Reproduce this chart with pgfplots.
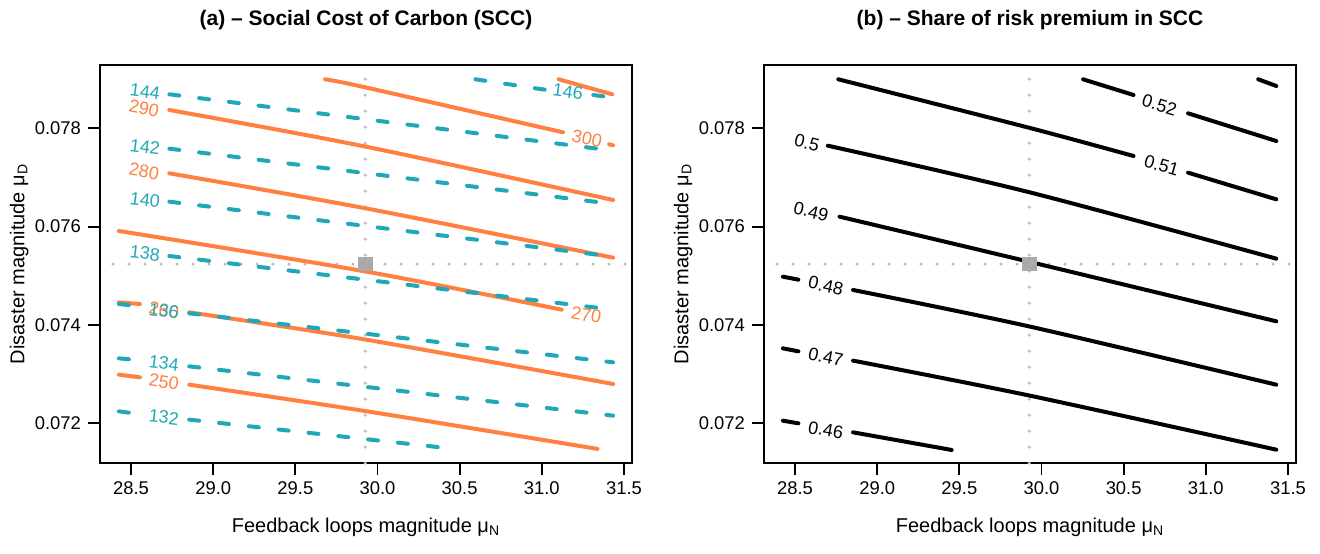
\documentclass[border=0pt]{standalone}
\usepackage{fontspec}
\setmainfont{Liberation Sans}
\usepackage{pgfplots}
\pgfplotsset{compat=1.18}

\definecolor{orng}{RGB}{255,128,64}
\definecolor{tl}{RGB}{32,168,184}
\definecolor{dotg}{RGB}{190,190,190}
\definecolor{sqg}{RGB}{170,170,170}

\newcommand\clab{\fontsize{9}{10}\selectfont}
% contour label: colour, rotation, position, text
\newcommand\lab[4]{\node[font=\clab, text=#1, rotate=#2, inner sep=0pt] at (axis cs:#3) {#4};}

\pgfplotsset{
  panel/.style={
    scale only axis, width=266pt, height=199pt,
    xmin=28.311, xmax=31.549, ymin=0.071193, ymax=0.079288,
    xtick={28.5,29,29.5,30,30.5,31,31.5},
    ytick={0.072,0.074,0.076,0.078},
    scaled x ticks=false, scaled y ticks=false,
    xtick pos=left, ytick pos=left,
    tick align=outside, major tick length=6pt,
    axis line style={line width=0.9pt},
    tick style={line width=0.9pt, black},
    tick label style={font=\fontsize{9.2}{11}\selectfont},
    xticklabel style={/pgf/number format/.cd, fixed, fixed zerofill, precision=1, assume math mode=true},
    yticklabel style={/pgf/number format/.cd, fixed, fixed zerofill, precision=3, assume math mode=true},
    label style={font=\fontsize{10.3}{12}\selectfont},
    every axis x label/.style={at={(axis description cs:0.5,0)}, yshift=-32pt, anchor=center},
    every axis y label/.style={at={(axis description cs:-0.152,0.5)}, rotate=90, anchor=center},
    xlabel={Feedback loops magnitude μ\textsubscript{N}},
    ylabel={Disaster magnitude μ\textsubscript{D}},
    every axis title/.style={font=\bfseries\fontsize{10.5}{12}\selectfont, at={(0.5,1)}, anchor=center, yshift=22.5pt},
    clip=false,
  },
  refdot/.style={color=dotg, line width=1.75pt, dash pattern=on 0pt off 8pt, line cap=round, no marks},
  sccline/.style={color=orng, line width=2pt, line cap=round, no marks, smooth},
  cbline/.style={color=tl, line width=2pt, dash pattern=on 5pt off 10pt, line cap=round, no marks},
  shline/.style={color=black, line width=2pt, line cap=round, no marks, smooth},
}

\begin{document}
\begin{tikzpicture}
\path[use as bounding box] (0,0) rectangle (660pt,276.5pt);

% (a) SCC
\begin{axis}[panel, at={(50pt,45pt)}, anchor=south west,
  title={(a) – Social Cost of Carbon (SCC)}]
\addplot[refdot] coordinates {(29.925,0.07119) (29.925,0.07903)};
\addplot[refdot] coordinates {(28.39,0.07524) (31.52,0.07524)};
\addplot[only marks, mark=square*, mark size=3.4pt, color=sqg] coordinates {(29.925,0.07524)};

% SCC contours
\addplot[sccline] coordinates {(31.103,0.078997) (31.428,0.078692)};
\addplot[sccline] coordinates {(29.681,0.078997) (29.925,0.078834) (31.129,0.077919)};
\addplot[sccline] coordinates {(31.41,0.077675) (31.434,0.077654)};
\addplot[sccline] coordinates {(28.733,0.078373) (29.925,0.077630) (31.434,0.076542)};
\addplot[sccline] coordinates {(28.733,0.077085) (29.925,0.076375) (31.434,0.075369)};
\addplot[sccline] coordinates {(28.426,0.075912) (29.925,0.075090) (31.121,0.074312)};
\addplot[sccline] coordinates {(28.426,0.074461) (28.554,0.074427)};
\addplot[sccline] coordinates {(28.854,0.074258) (29.925,0.073705) (31.434,0.072800)};
\addplot[sccline] coordinates {(28.426,0.072990) (28.554,0.072936)};
\addplot[sccline] coordinates {(28.854,0.072786) (29.925,0.072250) (31.339,0.07148)};

% second contour set (dashed)
\addplot[cbline] coordinates {(30.596,0.078997) (31.031,0.078780)};
\addplot[cbline] coordinates {(31.313,0.078678) (31.434,0.078624)};
\addplot[cbline] coordinates {(28.733,0.078692) (31.434,0.077546)};
\addplot[cbline] coordinates {(28.733,0.077586) (31.434,0.076461)};
\addplot[cbline] coordinates {(28.733,0.076508) (31.434,0.075390)};
\addplot[cbline] coordinates {(28.733,0.075403) (31.434,0.074312)};
\addplot[cbline] coordinates {(28.426,0.074427) (28.554,0.074380)};
\addplot[cbline] coordinates {(28.854,0.074237) (31.434,0.073241)};
\addplot[cbline] coordinates {(28.426,0.073322) (28.515,0.073295)};
\addplot[cbline] coordinates {(28.854,0.073159) (31.434,0.072156)};
\addplot[cbline] coordinates {(28.426,0.072244) (28.515,0.072203)};
\addplot[cbline] coordinates {(28.854,0.072075) (30.468,0.07148)};

\lab{orng}{-12.5}{31.275,0.077797}{300}
\lab{orng}{-11.5}{28.579,0.078405}{290}
\lab{orng}{-10.8}{28.579,0.077125}{280}
\lab{orng}{-10.1}{31.270,0.074203}{270}
\lab{orng}{-9.6}{28.700,0.07430}{260}
\lab{orng}{-9}{28.700,0.072847}{250}
\lab{tl}{-7.6}{31.159,0.078746}{146}
\lab{tl}{-7.2}{28.585,0.078745}{144}
\lab{tl}{-7.1}{28.585,0.077627}{142}
\lab{tl}{-7}{28.585,0.076542}{140}
\lab{tl}{-6.9}{28.585,0.075458}{138}
\lab{tl}{-6.6}{28.700,0.07428}{136}
\lab{tl}{-6.6}{28.700,0.073220}{134}
\lab{tl}{-6.4}{28.700,0.072122}{132}
\end{axis}

% (b) share of risk premium
\begin{axis}[panel, at={(382pt,45pt)}, anchor=south west,
  title={(b) – Share of risk premium in SCC}]
\addplot[refdot] coordinates {(29.925,0.07119) (29.925,0.07903)};
\addplot[refdot] coordinates {(28.39,0.07524) (31.52,0.07524)};
\addplot[only marks, mark=square*, mark size=3.4pt, color=sqg] coordinates {(29.925,0.07524)};

\addplot[shline] coordinates {(31.319,0.078997) (31.429,0.078861)};
\addplot[shline] coordinates {(30.253,0.078997) (30.560,0.078678)};
\addplot[shline] coordinates {(30.892,0.078305) (31.429,0.077742)};
\addplot[shline] coordinates {(28.763,0.078997) (29.926,0.078010) (30.560,0.077437)};
\addplot[shline] coordinates {(30.892,0.077098) (31.429,0.076556)};
\addplot[shline] coordinates {(28.699,0.077647) (29.926,0.076700) (31.429,0.075349)};
\addplot[shline] coordinates {(28.771,0.076203) (29.926,0.075285) (31.429,0.074075)};
\addplot[shline] coordinates {(28.426,0.074983) (28.520,0.074922)};
\addplot[shline] coordinates {(28.853,0.074712) (29.926,0.073970) (31.429,0.072786)};
\addplot[shline] coordinates {(28.426,0.073525) (28.520,0.073464)};
\addplot[shline] coordinates {(28.853,0.073275) (29.926,0.072565) (31.429,0.071464)};
\addplot[shline] coordinates {(28.426,0.072054) (28.520,0.072000)};
\addplot[shline] coordinates {(28.853,0.071817) (29.453,0.071458)};

\lab{black}{-17}{30.718,0.078475}{0.52}
\lab{black}{-16}{30.731,0.077241}{0.51}
\lab{black}{-14}{28.572,0.077708}{0.5}
\lab{black}{-13.5}{28.597,0.076305}{0.49}
\lab{black}{-12.5}{28.687,0.074800}{0.48}
\lab{black}{-12}{28.687,0.073342}{0.47}
\lab{black}{-10}{28.687,0.071864}{0.46}
\end{axis}
\end{tikzpicture}
\end{document}
